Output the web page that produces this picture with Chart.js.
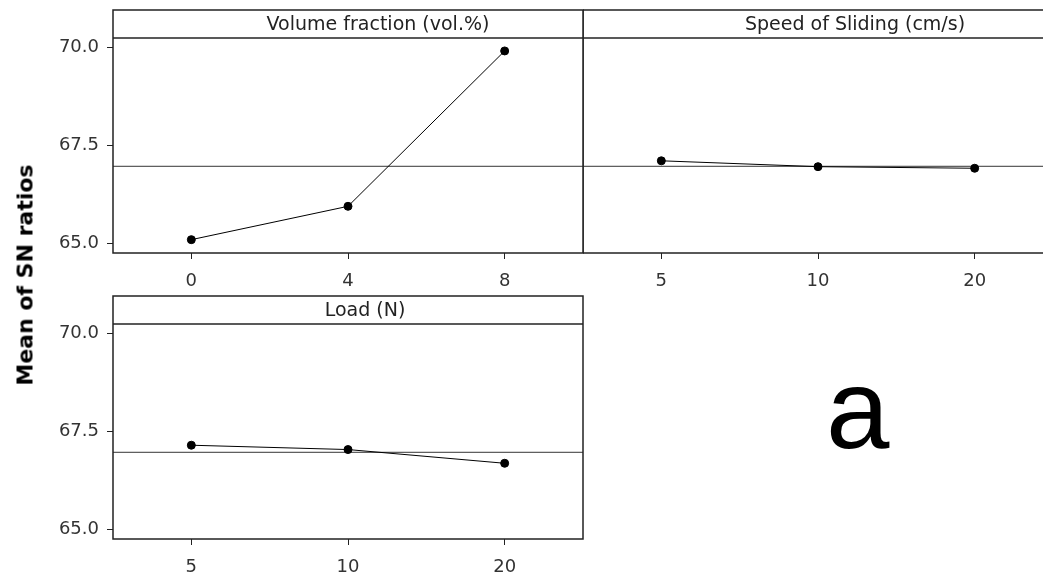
<!DOCTYPE html>
<html>
<head>
<meta charset="utf-8">
<script src="https://cdn.jsdelivr.net/npm/chart.js@4.4.1/dist/chart.umd.min.js"></script>
<style>
    html, body { margin: 0; padding: 0; background: #fff; overflow: hidden; }
    body { width: 1043px; height: 579px; position: relative; }
    canvas { position: absolute; }
    #ytitle {
        position: absolute; left: 25px; top: 275px;
        transform: translate(-50%, -50%) rotate(-90deg);
        font: bold 22px "DejaVu Sans", sans-serif;
        white-space: nowrap; color: #000;
    }
    #letter {
        position: absolute; left: 826px; top: 352px;
        font: 114px "Liberation Sans", Arial, sans-serif; color: #000;
        line-height: 1;
    }
</style>
</head>
<body>
<canvas id="volume-chart" style="left:0px;top:0px;" width="584" height="300"></canvas>
<canvas id="speed-chart" style="left:583px;top:0px;" width="471" height="300"></canvas>
<canvas id="load-chart" style="left:0px;top:286px;" width="584" height="300"></canvas>
<div id="ytitle">Mean of SN ratios</div>
<div id="letter">a</div>

<script>
// Data
const volumeLevels = ['0', '4', '8'];
const volumeMeans = [65.09, 65.94, 69.90];

const speedLevels = ['5', '10', '20'];
const speedMeans = [67.10, 66.95, 66.91];

const loadLevels = ['5', '10', '20'];
const loadMeans = [67.14, 67.03, 66.68];

const yTicks = [65.0, 67.5, 70.0];
const grandMean = 66.96;

const tickFont = { family: 'DejaVu Sans', size: 18 };

// Draws the panel box and the header strip above it
const panelFrame = {
    id: 'panelFrame',
    afterDraw(chart, args, opts) {
        const { ctx, chartArea } = chart;
        const { left, right, top, bottom } = chartArea;
        ctx.save();
        ctx.strokeStyle = '#222';
        ctx.lineWidth = 1.5;
        ctx.strokeRect(left, top - 28, right - left, bottom - top + 28);
        ctx.beginPath();
        ctx.moveTo(left, top);
        ctx.lineTo(right, top);
        ctx.stroke();
        ctx.fillStyle = '#222';
        ctx.font = '19px "DejaVu Sans"';
        ctx.textAlign = 'center';
        ctx.textBaseline = 'middle';
        ctx.fillText(opts.header, (left + right) / 2 + opts.shift, top - 13);
        ctx.restore();
    }
};

function makePanel(canvasId, header, shift, levels, means, showY) {
    const points = means.map((v, i) => ({ x: i, y: v }));
    const ctx = document.getElementById(canvasId).getContext('2d');
    return new Chart(ctx, {
        type: 'line',
        data: {
            datasets: [{
                data: points,
                borderColor: '#000',
                borderWidth: 1,
                backgroundColor: '#000',
                pointRadius: 4,
                pointHoverRadius: 4,
                tension: 0
            }, {
                data: [{ x: -0.5, y: grandMean }, { x: 2.5, y: grandMean }],
                borderColor: '#333',
                borderWidth: 1,
                pointRadius: 0
            }]
        },
        options: {
            responsive: false,
            animation: false,
            events: [],
            layout: { autoPadding: false, padding: { top: 38, right: 1, left: 0, bottom: 0 } },
            plugins: {
                legend: { display: false },
                tooltip: { enabled: false },
                panelFrame: { header: header, shift: shift }
            },
            scales: {
                x: {
                    type: 'linear',
                    min: -0.5,
                    max: 2.5,
                    afterBuildTicks(scale) {
                        scale.ticks = levels.map((l, i) => ({ value: i }));
                    },
                    afterFit(scale) {
                        scale.height = 47;
                        scale.paddingLeft = 0;
                        scale.paddingRight = 0;
                    },
                    ticks: {
                        callback: (v) => levels[v],
                        color: '#333',
                        font: tickFont,
                        padding: 12,
                        maxRotation: 0
                    },
                    grid: { drawOnChartArea: false, tickLength: 6, color: '#222' },
                    border: { display: false }
                },
                y: {
                    display: showY,
                    min: 64.75,
                    max: 70.23,
                    afterBuildTicks(scale) {
                        scale.ticks = yTicks.map(v => ({ value: v }));
                    },
                    afterFit(scale) {
                        if (showY) scale.width = 113;
                    },
                    ticks: {
                        callback: (v) => v.toFixed(1),
                        color: '#333',
                        font: tickFont,
                        padding: 8
                    },
                    grid: { drawOnChartArea: false, tickLength: 6, color: '#222' },
                    border: { display: false }
                }
            }
        },
        plugins: [panelFrame]
    });
}

makePanel('volume-chart', 'Volume fraction (vol.%)', 30, volumeLevels, volumeMeans, true);
makePanel('speed-chart', 'Speed of Sliding (cm/s)', 37, speedLevels, speedMeans, false);
makePanel('load-chart', 'Load (N)', 17, loadLevels, loadMeans, true);
</script>
</body>
</html>
